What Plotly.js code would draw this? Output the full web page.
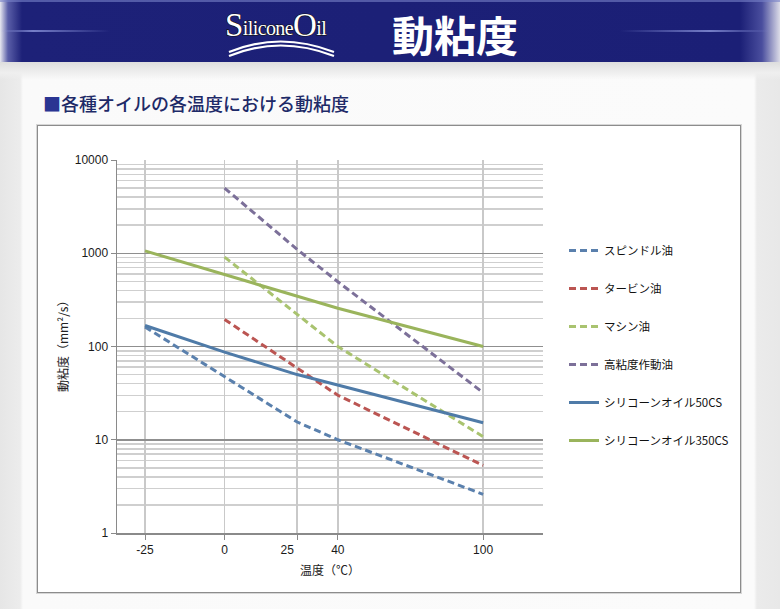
<!DOCTYPE html>
<html>
<head>
<meta charset="utf-8">
<script src="https://cdn.plot.ly/plotly-3.0.1.min.js"></script>
<style>
  html, body { margin:0; padding:0; }
  body { width:780px; height:609px; position:relative; overflow:hidden;
         background: linear-gradient(to right, #e6e6e6 0px, #ececec 20px, #fafafa 23px, #fbfbfb 754px, #ebebeb 757px, #e8e8e8 780px);
         font-family: "Noto Sans CJK JP", "Noto Sans", sans-serif; }
  #banner { position:absolute; left:0; top:0; width:780px; height:62px;
            background: linear-gradient(to right, #e8e8f0 0px, #5a5ea8 8px, #1d2178 22px, #1b1f76 740px, #4a4e9e 762px, #dcdce8 780px); }
  #bannerline1 { position:absolute; left:0; top:30px; width:110px; height:2px;
            background: linear-gradient(to right, rgba(140,150,220,0.0), rgba(140,150,220,0.8) 30%, rgba(140,150,220,0)); }
  #bannerline2 { position:absolute; left:620px; top:30px; width:150px; height:2px;
            background: linear-gradient(to right, rgba(140,150,220,0.0), rgba(140,150,220,0.8) 60%, rgba(140,150,220,0)); }
  #bannertop { position:absolute; left:0; top:0; width:780px; height:2px; background: rgba(120,130,200,0.6); }
  #band { position:absolute; left:0; top:62px; width:780px; height:18px;
          background: linear-gradient(to bottom, #dedede, #efefef 60%, rgba(250,250,250,0)); }
  #chartbox { position:absolute; left:37px; top:125px; width:702px; height:466px;
              background:#ffffff; border:1.5px solid #8c8c8c; box-shadow: 0 0 0 1px #d6d6d6; }
  #plot { position:absolute; left:0; top:0; width:780px; height:609px; }
  #logo { position:absolute; left:220px; top:2px; }
</style>
</head>
<body>
<div id="banner"></div>
<div id="bannertop"></div>
<div id="bannerline1"></div>
<div id="bannerline2"></div>
<div id="band"></div>
<svg id="logo" width="124" height="58" viewBox="0 0 124 58">
  <text x="5" y="34" font-family="Liberation Serif, DejaVu Serif, serif" fill="#ffffff" stroke="#111" stroke-width="1.2" paint-order="stroke" letter-spacing="-0.6"><tspan font-size="33">S</tspan><tspan font-size="20" dy="-1">ilicone</tspan><tspan font-size="33" dy="1">O</tspan><tspan font-size="20" dy="-1">il</tspan></text>
  <path d="M 9 50 Q 60 29 114 50" fill="none" stroke="#ffffff" stroke-width="2.2"/>
  <path d="M 9 54 Q 60 33 114 54" fill="none" stroke="#ffffff" stroke-width="2.2"/>
</svg>
<div id="chartbox"></div>
<div id="plot"></div>
<script>
// ---- data ----
const temperaturesC = [-25, 0, 25, 40, 100];
const tickLabels = ['-25', '0', '25\u00A0\u00A0\u00A0\u00A0\u00A0\u00A0', '40', '100'];
const spindleOil   = [162, 47, 15.5, 10, 2.6];
const turbineOil   = [null, 195, 58, 30, 5.3];
const machineOil   = [null, 910, 218, 100, 10.8];
const hydraulicOil = [null, 5000, 1100, 495, 32];
const silicone50   = [168, 87, 50, 38.5, 15.2];
const silicone350  = [1060, 590, 342, 257, 100];
const seriesNames = ['スピンドル油', 'タービン油', 'マシン油', '高粘度作動油', 'シリコーンオイル50CS', 'シリコーンオイル350CS'];
const yTickVals = [1, 10, 100, 1000, 10000];

// x axis of the reference is logarithmic in absolute temperature
const xKelvin = temperaturesC.map(t => t + 273.15);

const seriesData = [spindleOil, turbineOil, machineOil, hydraulicOil, silicone50, silicone350];
const colors = ['#5a80ad', '#bb5552', '#a9c36f', '#7c7099', '#4f7ba8', '#9ab45c'];
const dashes = ['7px,4px', '7px,4px', '7px,4px', '7px,4px', 'solid', 'solid'];

const traces = seriesData.map((vals, i) => ({
  type: 'scatter', mode: 'lines',
  x: xKelvin, y: vals, name: seriesNames[i],
  connectgaps: false,
  legendgroup: 'g' + i,
  line: { color: colors[i], width: 3, dash: dashes[i] },
  hoverinfo: 'skip'
}));

// minor gridline positions (2..9 within each decade)
const minorVals = [];
for (let d = 0; d < 4; d++) for (let k = 2; k <= 9; k++) minorVals.push(k * Math.pow(10, d));

const L = 117, R = 543, T = 160, B = 533, W = 780, H = 609;
const px = x => (x - L) / (R - L);
const py = y => (B - y) / (B - T);

const xMin = Math.log10(239.9), xMax = Math.log10(401.1);

const layout = {
  width: W, height: H,
  margin: { l: L, r: W - R, t: T, b: H - B, pad: 0 },
  paper_bgcolor: 'rgba(0,0,0,0)', plot_bgcolor: 'rgba(0,0,0,0)',
  showlegend: true,
  legend: {
    xref: 'container', yref: 'container',
    x: 564 / W, y: 1 - 236 / H, xanchor: 'left', yanchor: 'top',
    bgcolor: 'rgba(0,0,0,0)', borderwidth: 0,
    traceorder: 'grouped', tracegroupgap: 19,
    font: { family: 'Noto Sans CJK JP, Noto Sans, sans-serif', size: 11.5, color: '#111' }
  },
  xaxis: {
    type: 'log', range: [xMin, xMax],
    tickmode: 'array', tickvals: xKelvin, ticktext: tickLabels,
    showgrid: true, gridcolor: '#c9c9c9', gridwidth: 1.5,
    zeroline: false,
    showline: true, linecolor: '#8a8a8a', linewidth: 1.5,
    ticks: 'outside', ticklen: 5, tickcolor: '#8a8a8a', tickwidth: 1,
    tickfont: { family: 'Liberation Sans, Noto Sans, sans-serif', size: 12, color: '#1a1a1a' },
    fixedrange: true
  },
  yaxis: {
    type: 'log', range: [0, 4],
    tickmode: 'array', tickvals: yTickVals, ticktext: yTickVals.map(String),
    showgrid: true, gridcolor: '#8f8f8f', gridwidth: 1.5,
    minor: { tickmode: 'array', tickvals: minorVals, showgrid: true, gridcolor: '#cfcfcf', gridwidth: 1.5, ticks: '' },
    zeroline: false,
    showline: true, linecolor: '#8a8a8a', linewidth: 1.5,
    ticks: 'outside', ticklen: 5, tickcolor: '#8a8a8a', tickwidth: 1,
    tickfont: { family: 'Liberation Sans, Noto Sans, sans-serif', size: 12, color: '#1a1a1a' },
    fixedrange: true
  },
  annotations: [
    { xref: 'paper', yref: 'paper', x: px(455), y: py(33), xanchor: 'center', yanchor: 'middle',
      text: '<b>動粘度</b>', showarrow: false,
      font: { family: 'Noto Sans CJK JP, sans-serif', size: 42, color: '#ffffff' } },
    { xref: 'paper', yref: 'paper', x: px(41), y: py(103), xanchor: 'left', yanchor: 'middle',
      text: '<span style="color:#2a3592">■</span>各種オイルの各温度における動粘度', showarrow: false,
      font: { family: 'Noto Sans CJK JP, sans-serif', size: 18, color: '#1e2a68', weight: 500 } },
    { xref: 'paper', yref: 'paper', x: px(62), y: py(344), xanchor: 'center', yanchor: 'middle',
      text: '動粘度（mm²/s）', textangle: -90, showarrow: false,
      font: { family: 'Noto Sans CJK JP, sans-serif', size: 12, color: '#222' } },
    { xref: 'paper', yref: 'paper', x: px(330), y: py(569), xanchor: 'center', yanchor: 'middle',
      text: '温度（℃）', showarrow: false,
      font: { family: 'Noto Sans CJK JP, sans-serif', size: 12, color: '#222' } }
  ]
};

Plotly.newPlot('plot', traces, layout, { staticPlot: true, displayModeBar: false });
</script>
</body>
</html>
